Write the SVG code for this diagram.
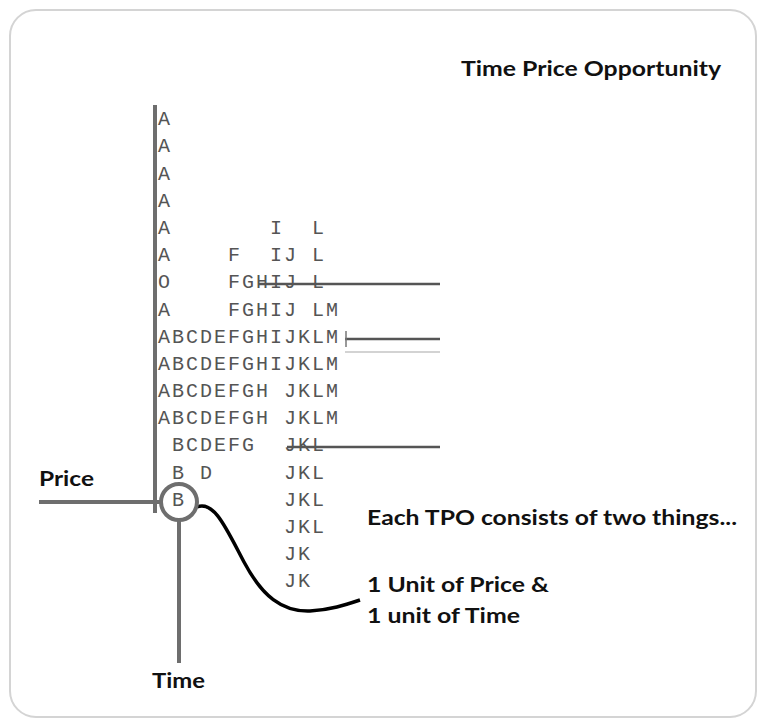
<svg xmlns="http://www.w3.org/2000/svg" width="762" height="723" viewBox="0 0 762 723">
<style>
.tpo{font-family:"Liberation Mono","Courier New",monospace;font-size:20px;letter-spacing:2px;fill:#555;white-space:pre}
.lbl{font-family:Lato,"Liberation Sans",sans-serif;font-weight:700;font-size:21px;fill:#111}
.axis{stroke:#6e6e6e;stroke-width:4;fill:none}
.strike{stroke:#555;stroke-width:2.5}
</style>
<rect x="10" y="10" width="746" height="707" rx="26" ry="26" fill="#fff" stroke="#d4d4d4" stroke-width="2"/>
<g id="title"><text class="lbl" x="461" y="76" textLength="260" lengthAdjust="spacingAndGlyphs">Time Price Opportunity</text></g>
<g id="tpo-profile" xml:space="preserve">
<text class="tpo" x="158" y="125">A</text>
<text class="tpo" x="158" y="152">A</text>
<text class="tpo" x="158" y="180">A</text>
<text class="tpo" x="158" y="207">A</text>
<text class="tpo" x="158" y="234">A       I  L</text>
<text class="tpo" x="158" y="261">A    F  IJ L</text>
<text class="tpo" x="158" y="288">O    FGHIJ L</text>
<text class="tpo" x="158" y="316">A    FGHIJ LM</text>
<text class="tpo" x="158" y="343">ABCDEFGHIJKLM</text>
<text class="tpo" x="158" y="370">ABCDEFGHIJKLM</text>
<text class="tpo" x="158" y="397">ABCDEFGH JKLM</text>
<text class="tpo" x="158" y="424">ABCDEFGH JKLM</text>
<text class="tpo" x="158" y="451"> BCDEFG  JKL</text>
<text class="tpo" x="158" y="479"> B D     JKL</text>
<text class="tpo" x="158" y="506"> B       JKL</text>
<text class="tpo" x="158" y="533">         JKL</text>
<text class="tpo" x="158" y="560">         JK</text>
<text class="tpo" x="158" y="587">         JK</text>
</g>
<g id="connectors">
<line class="axis" x1="155" y1="105" x2="155" y2="513" stroke-width="3"/>
<line class="axis" x1="39" y1="502" x2="161" y2="502"/>
<line class="axis" x1="179" y1="520" x2="179" y2="663"/>
<line class="strike" x1="259" y1="284" x2="440" y2="284"/>
<line class="strike" x1="345" y1="339" x2="440" y2="339"/>
<line x1="346" y1="331" x2="346" y2="347" stroke="#777" stroke-width="1.5"/>
<line x1="345" y1="352" x2="440" y2="352" stroke="#c4c4c4" stroke-width="1.5"/>
<line class="strike" x1="287" y1="447" x2="440" y2="447"/>
<path d="M197,507 C214,500 226,528 244,562 C262,596 282,612 310,611 C330,610 345,605 360,600" fill="none" stroke="#000" stroke-width="3.5"/>
</g>
<g id="tpo-node"><circle cx="179" cy="502" r="18" fill="none" stroke="#6e6e6e" stroke-width="4"/></g>
<g id="price-label"><text class="lbl" x="39" y="486" textLength="55" lengthAdjust="spacingAndGlyphs">Price</text></g>
<g id="time-label"><text class="lbl" x="152" y="688" textLength="53" lengthAdjust="spacingAndGlyphs">Time</text></g>
<g id="note">
<text class="lbl" x="367" y="525" textLength="370" lengthAdjust="spacingAndGlyphs">Each TPO consists of two things...</text>
<text class="lbl" x="367" y="592" textLength="182" lengthAdjust="spacingAndGlyphs">1 Unit of Price &amp;</text>
<text class="lbl" x="367" y="623" textLength="153" lengthAdjust="spacingAndGlyphs">1 unit of Time</text>
</g>
</svg>
